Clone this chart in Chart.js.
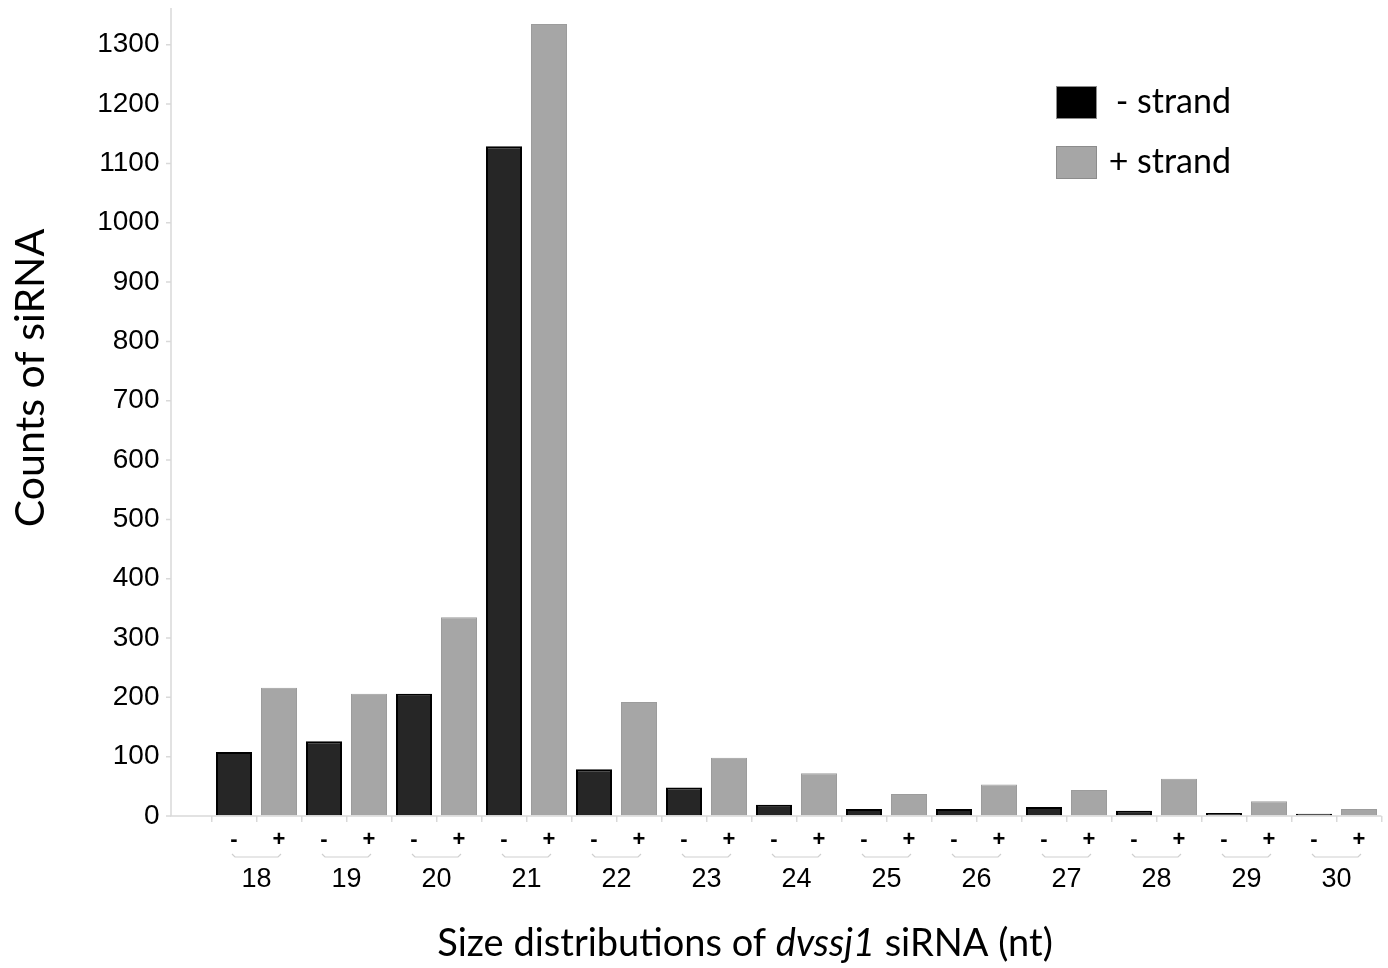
<!DOCTYPE html>
<html>
<head>
<meta charset="utf-8">
<script src="https://cdn.jsdelivr.net/npm/chart.js@4"></script>
<style>
  html, body { margin: 0; background: #fff; }
</style>
</head>
<body>
<canvas id="chart" width="1388" height="968"></canvas>
<script>
// siRNA sizes (nt) and counts per strand
const sizes = ['18', '19', '20', '21', '22', '23', '24', '25', '26', '27', '28', '29', '30'];
const minusCounts = [108, 126, 206, 1129, 79, 48, 19, 12, 12, 15, 9, 5, 4];
const plusCounts = [216, 206, 335, 1335, 192, 98, 72, 37, 53, 44, 63, 25, 12];
const yTicks = [0, 100, 200, 300, 400, 500, 600, 700, 800, 900, 1000, 1100, 1200, 1300];
const signLabels = sizes.flatMap(() => ['-', '+']);

const AXIS_GREY = '#d9d9d9';

// axis lines, tick marks, pair brackets, legend and titles
const decor = {
    id: 'decor',
    afterDraw(chart) {
        const ctx = chart.ctx;
        const area = chart.chartArea;
        const y = chart.scales.y;
        const xs = chart.scales.xs;
        const axisX = area.left - 40.5;

        ctx.save();
        ctx.strokeStyle = AXIS_GREY;
        ctx.lineWidth = 1.5;
        ctx.beginPath();
        ctx.moveTo(axisX, area.top);
        ctx.lineTo(axisX, area.bottom);
        ctx.lineTo(area.right, area.bottom);
        ctx.stroke();

        // y tick marks
        ctx.beginPath();
        yTicks.forEach(v => {
            const py = y.getPixelForValue(v);
            ctx.moveTo(axisX - 5, py);
            ctx.lineTo(axisX, py);
        });
        ctx.stroke();

        // small brackets under each -/+ pair
        ctx.strokeStyle = '#cfcfcf';
        ctx.lineWidth = 1.2;
        ctx.beginPath();
        sizes.forEach((s, i) => {
            const x1 = xs.getPixelForTick(2 * i) - 2;
            const x2 = xs.getPixelForTick(2 * i + 1) + 2;
            const by = 857;
            ctx.moveTo(x1, by - 3);
            ctx.lineTo(x1 + 3, by);
            ctx.lineTo(x2 - 3, by);
            ctx.lineTo(x2, by - 3);
        });
        ctx.stroke();

        // legend
        ctx.font = '34px Lato, "Open Sans", sans-serif';
        ctx.textBaseline = 'middle';
        ctx.textAlign = 'right';
        chart.data.datasets.forEach((ds, i) => {
            const top = 86 + i * 60;
            ctx.fillStyle = ds.legendColor;
            ctx.fillRect(1056, top, 41, 33);
            ctx.strokeStyle = '#8c8c8c';
            ctx.lineWidth = 1;
            ctx.strokeRect(1056.5, top + 0.5, 40, 32);
            ctx.fillStyle = '#000';
            ctx.fillText(ds.label, 1231, top + 16);
        });

        // x title with italic virus name
        const parts = [
            ['Size distributions of ', 'normal'],
            ['dvssj1', 'italic'],
            [' siRNA (nt)', 'normal']
        ];
        ctx.textAlign = 'left';
        ctx.textBaseline = 'alphabetic';
        let total = 0;
        parts.forEach(p => {
            ctx.font = p[1] + ' 38px Lato, "Open Sans", sans-serif';
            total += ctx.measureText(p[0]).width;
        });
        let tx = 745 - total / 2;
        parts.forEach(p => {
            ctx.font = p[1] + ' 38px Lato, "Open Sans", sans-serif';
            ctx.fillText(p[0], tx, 956);
            tx += ctx.measureText(p[0]).width;
        });

        // y title
        ctx.translate(44, 378);
        ctx.rotate(-Math.PI / 2);
        ctx.textAlign = 'center';
        ctx.font = '41px Lato, "Open Sans", sans-serif';
        ctx.fillText('Counts of siRNA', 0, 0);
        ctx.restore();
    }
};

new Chart(document.getElementById('chart'), {
    type: 'bar',
    data: {
        labels: sizes,
        datasets: [{
            label: '- strand',
            data: minusCounts,
            xAxisID: 'x',
            backgroundColor: '#262626',
            borderColor: '#000',
            borderWidth: 2,
            legendColor: '#000'
        }, {
            label: '+ strand',
            data: plusCounts,
            xAxisID: 'x',
            backgroundColor: '#a6a6a6',
            borderColor: '#9c9c9c',
            borderWidth: 1,
            legendColor: '#a6a6a6'
        }]
    },
    options: {
        responsive: false,
        animation: false,
        categoryPercentage: 1.0,
        barPercentage: 0.8,
        layout: { padding: { top: 8, right: 6.5, bottom: 40, left: 0 } },
        plugins: {
            legend: { display: false },
            tooltip: { enabled: false }
        },
        scales: {
            x: {
                position: 'bottom',
                weight: 1,
                grid: { display: false },
                border: { display: false },
                ticks: { color: '#000', font: { size: 27, family: 'Liberation Sans, Arial' }, padding: -1, maxRotation: 0, autoSkip: false },
                afterFit: s => { s.height = 72; }
            },
            xs: {
                type: 'category',
                position: 'bottom',
                labels: signLabels,
                offset: true,
                weight: 0,
                grid: { drawOnChartArea: false, tickLength: 6, color: AXIS_GREY, lineWidth: 1.5 },
                border: { display: false },
                ticks: { color: '#000', font: { size: 22, weight: 'bold', family: 'Liberation Sans, Arial' }, padding: 5, maxRotation: 0, autoSkip: false },
                afterFit: s => { s.height = 40; }
            },
            y: {
                min: 0,
                max: 1362,
                grid: { display: true, drawOnChartArea: false, drawTicks: true, tickLength: 46, color: 'transparent' },
                border: { display: false },
                ticks: {
                    stepSize: 100,
                    color: '#000',
                    padding: 6,
                    font: { size: 28, family: 'Liberation Sans, Arial' },
                    callback: v => yTicks.includes(v) ? v : ''
                },
                afterFit: s => {
                    s.width = 211.5;
                    s.paddingTop = 0;
                    s.paddingBottom = 0;
                }
            }
        }
    },
    plugins: [decor]
});
</script>
</body>
</html>
